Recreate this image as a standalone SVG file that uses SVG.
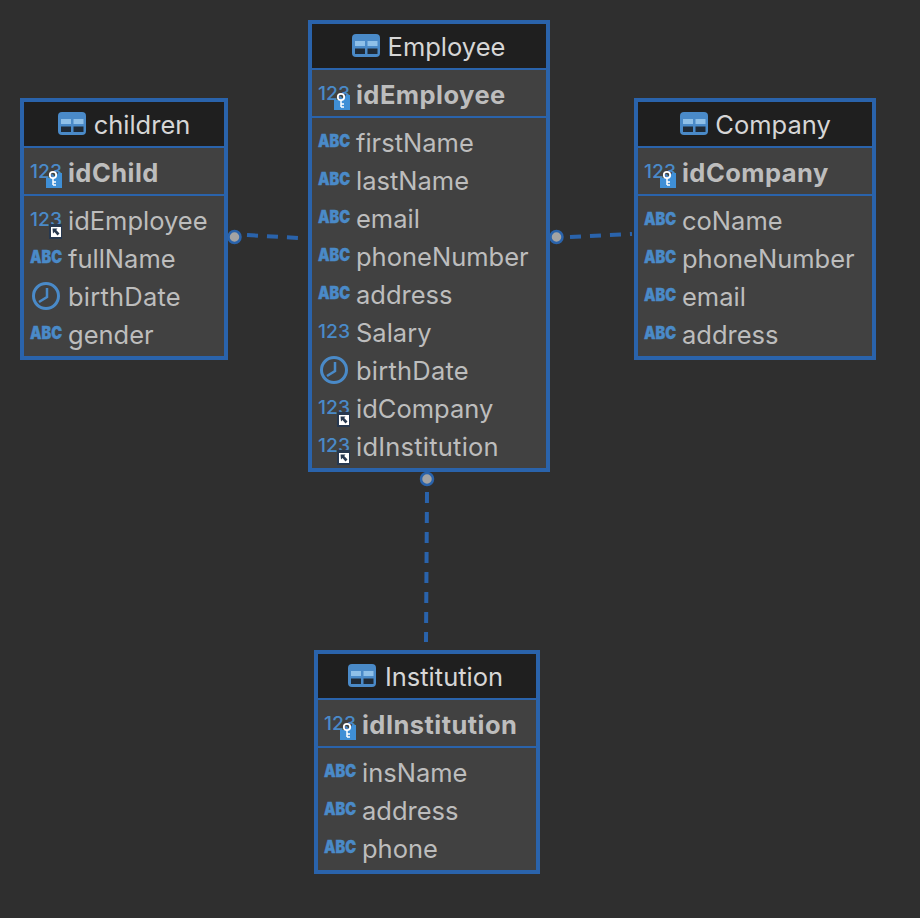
<svg xmlns="http://www.w3.org/2000/svg" width="920" height="918" viewBox="0 0 920 918">
<style>
.box{fill:#414141;stroke:#2a63ab;stroke-width:4}
.head{fill:#1f1f1f}
.sep{stroke:#2a63ab;stroke-width:2}
text{font-family:"Inter","Liberation Sans",sans-serif}
.t{font-size:25.5px;fill:#d6d6d6;text-anchor:middle}
.k{font-size:25.5px;font-weight:700;fill:#bdbdbd;letter-spacing:.45px}
.c{font-size:25.5px;fill:#bdbdbd}
.w{letter-spacing:.22px}
.abc{font-size:17px;font-weight:900;fill:#4a8ac8;stroke:#4a8ac8;stroke-width:.4px}
.num{font-size:19px;font-weight:500;fill:#4a8ac8}
.rel{fill:none;stroke:#2a63ab;stroke-width:4;stroke-dasharray:11 9}
.dot{fill:#a3a3a3;stroke:#2a63ab;stroke-width:2.5}
</style>
<defs>
<g id="tbl"><rect width="28" height="23" rx="4" fill="#4a8ac8"/><rect x="3" y="7" width="10" height="5" fill="#8fc0e8"/><rect x="15.500" y="7" width="10" height="5" fill="#8fc0e8"/><rect x="3" y="14.500" width="10" height="5.500" fill="#1f2a36"/><rect x="15.500" y="14.500" width="10" height="5.500" fill="#1f2a36"/></g>
<g id="key"><path d="M17 16L26 16L29 11H33V26H17Z" fill="#3f8fd6"/><circle cx="24" cy="13" r="3.200" fill="none" stroke="#fff" stroke-width="1.800"/><path d="M24 16V23M24 20H27M24 23H27" stroke="#fff" stroke-width="1.500" fill="none"/></g>
<g id="fk"><rect x="20" y="15" width="13" height="15" fill="#27384f"/><rect x="22" y="18" width="10" height="10" fill="#fff"/><path d="M23.500 19.500H28.500L27.200 21L30.500 24.500L28.500 26.500L25.500 23L24 24.500Z" fill="#27384f"/></g>
<g id="clk"><circle cx="16" cy="12" r="12.500" fill="none" stroke="#4a8ac8" stroke-width="3"/><path d="M17 4V13L9 18" fill="none" stroke="#4a8ac8" stroke-width="2.500"/></g>
</defs>
<rect width="920" height="918" fill="#2f2f2f"/>
<g id="connectors">
<path class="rel" d="M247 235L298 238"/>
<path class="rel" d="M570 237L632 234"/>
<path class="rel" d="M427 492L426 642"/>
<circle class="dot" cx="234.500" cy="237" r="6"/>
<circle class="dot" cx="556.500" cy="237" r="6"/>
<circle class="dot" cx="427" cy="479" r="6"/>
</g>
<g id="children">
<rect class="box" x="22" y="100" width="204" height="258"/>
<rect class="head" x="24" y="102" width="200" height="45"/>
<path class="sep" d="M24 147H224M24 195H224"/>
<use href="#tbl" x="58" y="112"/>
<text class="t" x="142" y="134">children</text>
<text class="num" x="30" y="178" textLength="32" lengthAdjust="spacingAndGlyphs">123</text><use href="#key" x="29" y="162"/><text class="k" x="68" y="182">idChild</text>
<text class="num" x="30" y="226" textLength="32" lengthAdjust="spacingAndGlyphs">123</text><use href="#fk" x="29" y="209"/><text class="c" x="68" y="230">idEmployee</text>
<text class="abc" x="30" y="263" textLength="32" lengthAdjust="spacingAndGlyphs">ABC</text><text class="c" x="68" y="268">fullName</text>
<use href="#clk" x="30" y="284"/><text class="c w" x="68" y="306">birthDate</text>
<text class="abc" x="30" y="339" textLength="32" lengthAdjust="spacingAndGlyphs">ABC</text><text class="c" x="68" y="344">gender</text>
</g>
<g id="employee">
<rect class="box" x="310" y="22" width="238" height="448"/>
<rect class="head" x="312" y="24" width="234" height="45"/>
<path class="sep" d="M312 69H546M312 117H546"/>
<use href="#tbl" x="352" y="34"/>
<text class="t" x="446.500" y="56">Employee</text>
<text class="num" x="318" y="100" textLength="32" lengthAdjust="spacingAndGlyphs">123</text><use href="#key" x="317" y="84"/><text class="k" x="356" y="104">idEmployee</text>
<text class="abc" x="318" y="147" textLength="32" lengthAdjust="spacingAndGlyphs">ABC</text><text class="c" x="356" y="152">firstName</text>
<text class="abc" x="318" y="185" textLength="32" lengthAdjust="spacingAndGlyphs">ABC</text><text class="c" x="356" y="190">lastName</text>
<text class="abc" x="318" y="223" textLength="32" lengthAdjust="spacingAndGlyphs">ABC</text><text class="c" x="356" y="228">email</text>
<text class="abc" x="318" y="261" textLength="32" lengthAdjust="spacingAndGlyphs">ABC</text><text class="c" x="356" y="266">phoneNumber</text>
<text class="abc" x="318" y="299" textLength="32" lengthAdjust="spacingAndGlyphs">ABC</text><text class="c" x="356" y="304">address</text>
<text class="num" x="318" y="338" textLength="32" lengthAdjust="spacingAndGlyphs">123</text><text class="c" x="356" y="342">Salary</text>
<use href="#clk" x="318" y="358"/><text class="c w" x="356" y="380">birthDate</text>
<text class="num" x="318" y="414" textLength="32" lengthAdjust="spacingAndGlyphs">123</text><use href="#fk" x="317" y="397"/><text class="c" x="356" y="418">idCompany</text>
<text class="num" x="318" y="452" textLength="32" lengthAdjust="spacingAndGlyphs">123</text><use href="#fk" x="317" y="435"/><text class="c w" x="356" y="456">idInstitution</text>
</g>
<g id="company">
<rect class="box" x="636" y="100" width="238" height="258"/>
<rect class="head" x="638" y="102" width="234" height="45"/>
<path class="sep" d="M638 147H872M638 195H872"/>
<use href="#tbl" x="680" y="112"/>
<text class="t" x="773" y="134">Company</text>
<text class="num" x="644" y="178" textLength="32" lengthAdjust="spacingAndGlyphs">123</text><use href="#key" x="643" y="162"/><text class="k" x="682" y="182">idCompany</text>
<text class="abc" x="644" y="225" textLength="32" lengthAdjust="spacingAndGlyphs">ABC</text><text class="c" x="682" y="230">coName</text>
<text class="abc" x="644" y="263" textLength="32" lengthAdjust="spacingAndGlyphs">ABC</text><text class="c" x="682" y="268">phoneNumber</text>
<text class="abc" x="644" y="301" textLength="32" lengthAdjust="spacingAndGlyphs">ABC</text><text class="c" x="682" y="306">email</text>
<text class="abc" x="644" y="339" textLength="32" lengthAdjust="spacingAndGlyphs">ABC</text><text class="c" x="682" y="344">address</text>
</g>
<g id="institution">
<rect class="box" x="316" y="652" width="222" height="220"/>
<rect class="head" x="318" y="654" width="218" height="45"/>
<path class="sep" d="M318 699H536M318 747H536"/>
<use href="#tbl" x="348" y="664"/>
<text class="t" x="444" y="686">Institution</text>
<text class="num" x="324" y="730" textLength="32" lengthAdjust="spacingAndGlyphs">123</text><use href="#key" x="323" y="714"/><text class="k" x="362" y="734">idInstitution</text>
<text class="abc" x="324" y="777" textLength="32" lengthAdjust="spacingAndGlyphs">ABC</text><text class="c" x="362" y="782">insName</text>
<text class="abc" x="324" y="815" textLength="32" lengthAdjust="spacingAndGlyphs">ABC</text><text class="c" x="362" y="820">address</text>
<text class="abc" x="324" y="853" textLength="32" lengthAdjust="spacingAndGlyphs">ABC</text><text class="c" x="362" y="858">phone</text>
</g>
</svg>
